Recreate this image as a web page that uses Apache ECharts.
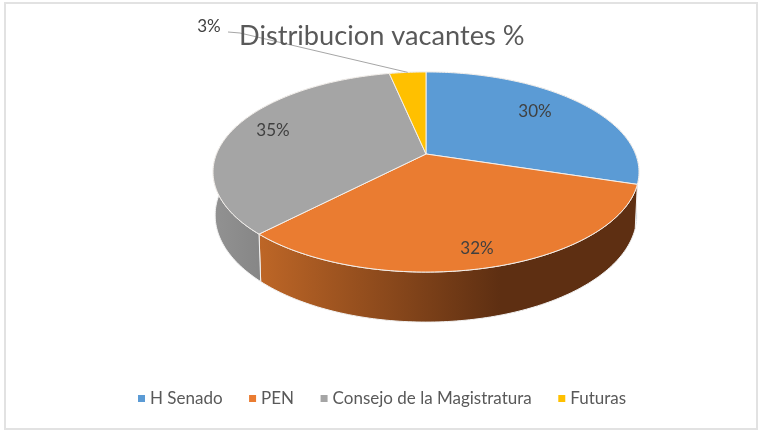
<!DOCTYPE html>
<html>
<head>
<meta charset="utf-8">
<title>Distribucion vacantes %</title>
<script src="https://cdn.jsdelivr.net/npm/echarts@6/dist/echarts.min.js"></script>
<style>
body{margin:0;background:#fff;}
#main{width:758px;height:430px;}
</style>
</head>
<body>
<div id="main"></div>
<script>
var categories=["H Senado","PEN","Consejo de la Magistratura","Futuras"];
var values=[29.8,32.4,34.5,3.3];
var topColors=["#5b9bd5","#ea7c31","#a5a5a5","#ffc000"];

// posicion de las etiquetas en pantalla
var labelPos=[[535,112],[477,249],[273,131],[209,27]];
var leaderStart=[228,32];
var leaderKnee=[240,33];

// pie en perspectiva: centro, radios, fuga y profundidad
var cx=426,cy=154,rx=209.5,ry=96.8,persp=0.18,depth=42,bottomScale=0.99;

var total=values.reduce(function(a,b){return a+b;},0);

function project(deg,r,dropped){
	var a=deg*Math.PI/180;
	var u=Math.sin(a)*r,v=-Math.cos(a)*r;
	var w=1-persp*v;
	var s=dropped?bottomScale:1;
	return [cx+rx*u*s/w,cy+(ry*v*s+(dropped?depth:0))/w];
}
function arc(from,to,dropped){
	var pts=[],n=Math.max(2,Math.ceil(to-from));
	for(var i=0;i<=n;i++){
		pts.push(project(from+(to-from)*i/n,1,dropped));
	}
	return pts;
}
function sideFill(i){
	if(i==1){
		return new echarts.graphic.LinearGradient(255,0,500,0,[
			{offset:0,color:"#bf6727"},{offset:1,color:"#5e2f12"}],true);
	}
	if(i==2){
		return new echarts.graphic.LinearGradient(212,0,262,0,[
			{offset:0,color:"#929292"},{offset:1,color:"#868686"}],true);
	}
	return ["#2c5f8f","","","#8f6c00"][i];
}

var starts=[],acc=0;
values.forEach(function(v){starts.push(acc);acc+=v/total*360;});

function sliceItem(i){
	return function(){
		var from=starts[i],to=from+values[i]/total*360;
		var rim=arc(from,to,false);
		var children=[{
			type:"polygon",
			z2:1,
			shape:{points:rim.concat(arc(from,to,true).reverse())},
			style:{fill:sideFill(i),stroke:"#f2f2f2",lineWidth:1}
		},{
			type:"polygon",
			z2:5,
			shape:{points:[[cx,cy]].concat(rim)},
			style:{fill:topColors[i],stroke:"#f4f0ec",lineWidth:1,lineJoin:"round"}
		},{
			type:"text",
			z2:8,
			x:labelPos[i][0],
			y:labelPos[i][1],
			style:{text:Math.round(values[i])+"%",fill:"#404040",font:"17px Lato",align:"center",verticalAlign:"middle"}
		}];
		if(i==3){
			var mid=project((from+to)/2,1,false);
			children.push({
				type:"polyline",
				z2:8,
				shape:{points:[leaderStart,leaderKnee,mid]},
				style:{fill:null,stroke:"#a6a6a6",lineWidth:1}
			});
		}
		return {type:"group",children:children};
	};
}

var myChart=echarts.init(document.getElementById("main"));
var option={
	animation:false,
	backgroundColor:"#fff",
	title:{
		text:"Distribucion vacantes %",
		left:234,
		top:18,
		textStyle:{color:"#595959",fontFamily:"Lato",fontSize:27.2,fontWeight:"normal"}
	},
	legend:{
		data:categories,
		left:133,
		top:385,
		icon:"rect",
		itemWidth:7,
		itemHeight:7,
		itemGap:26.5,
		selectedMode:false,
		textStyle:{color:"#595959",fontFamily:"Lato",fontSize:17}
	},
	graphic:[{
		type:"rect",
		silent:true,
		shape:{x:5,y:3,width:752,height:426},
		style:{fill:null,stroke:"#e2e2e2",lineWidth:2}
	}],
	series:categories.map(function(name,i){
		return {
			type:"custom",
			name:name,
			coordinateSystem:"none",
			silent:true,
			itemStyle:{color:topColors[i]},
			data:[[values[i]]],
			renderItem:sliceItem(i)
		};
	})
};
myChart.setOption(option);
</script>
</body>
</html>
